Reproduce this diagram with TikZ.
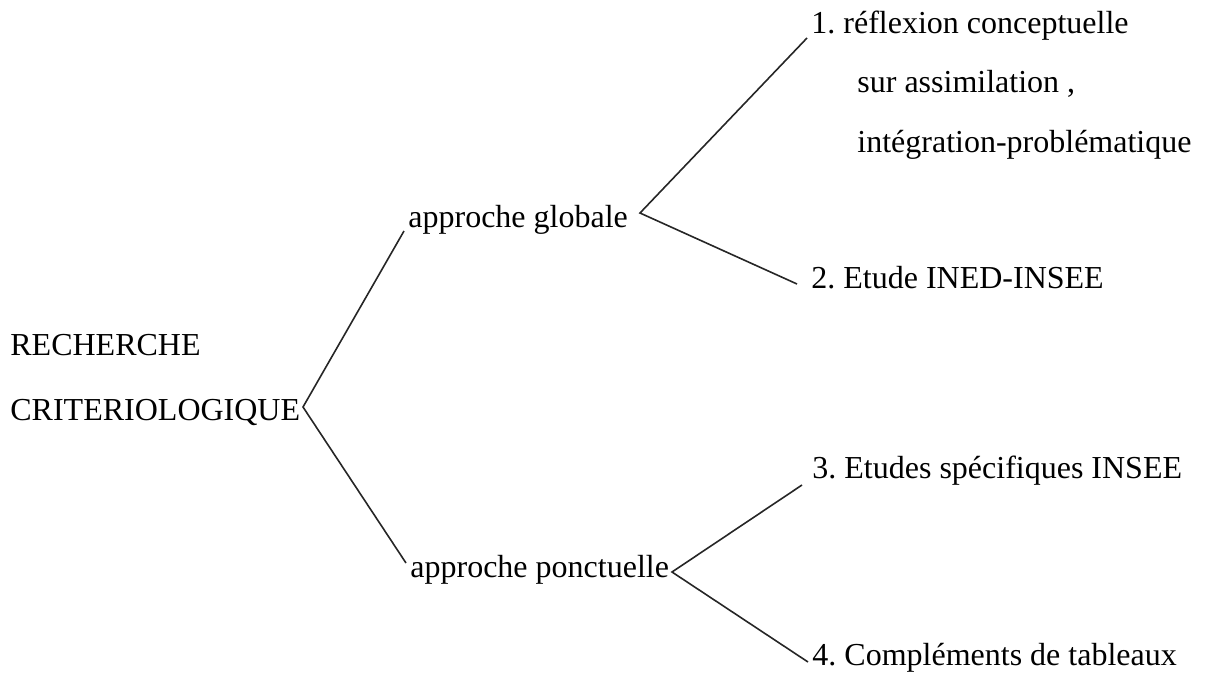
\documentclass[tikz,border=0pt]{standalone}
\usepackage{fontspec}
\setmainfont{Liberation Serif}
\frenchspacing
\begin{document}
\begin{tikzpicture}[x=0.5pt,y=-0.5pt,
  lbl/.style={anchor=base west,inner sep=0pt,font=\fontsize{16}{19}\selectfont},
  link/.style={draw=black!85,line width=0.8pt}]
\useasboundingbox (0,0) rectangle (1208,686);
% texts
\node[lbl] (rec) at (10,355) {RECHERCHE};
\node[lbl] (crit) at (10,420) {CRITERIOLOGIQUE};
\node[lbl] (glob) at (408,227) {approche globale};
\node[lbl] (ponc) at (410,577) {approche ponctuelle};
\node[lbl] (t1) at (811,33) {1. réflexion conceptuelle};
\node[lbl] (t1b) at (857,92) {sur assimilation ,};
\node[lbl] (t1c) at (857,152) {intégration-problématique};
\node[lbl] (t2) at (811,288) {2. Etude INED-INSEE};
\node[lbl] (t3) at (812,478) {3. Etudes spécifiques INSEE};
\node[lbl] (t4) at (812,665) {4. Compléments de tableaux};
% vertices and ends
\coordinate (v0) at (303,407);
\coordinate (v1) at (640,213);
\coordinate (v2) at (672,572);
\coordinate (e1) at (404,231);
\coordinate (e2) at (406,563);
\coordinate (e3) at (807,38);
\coordinate (e4) at (797,284);
\coordinate (e5) at (802,485);
\coordinate (e6) at (808,662);
\draw[link] (e1) -- (v0) -- (e2);
\draw[link] (e3) -- (v1) -- (e4);
\draw[link] (e5) -- (v2) -- (e6);
\end{tikzpicture}
\end{document}
